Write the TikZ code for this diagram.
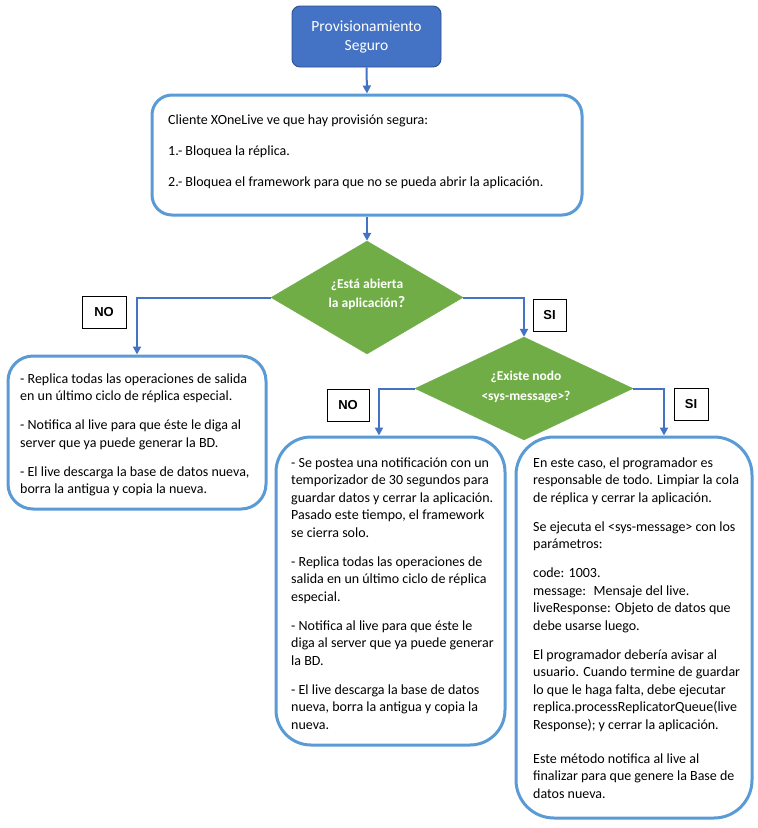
\documentclass[tikz,border=0pt]{standalone}
\usepackage{fontspec}
\setmainfont{Carlito}
\newfontfamily\tagfont{Liberation Sans}
\usetikzlibrary{shapes.geometric,arrows.meta}
\definecolor{provblue}{HTML}{4472C4}
\definecolor{provedge}{HTML}{2F528F}
\definecolor{boxedge}{HTML}{5B9BD5}
\definecolor{decgreen}{HTML}{70AD47}
\begin{document}
\begin{tikzpicture}[x=1pt,y=-1pt,
  txt/.style={font=\fontsize{14}{17.5}\selectfont, align=left, anchor=north west, inner sep=0pt},
  roundbox/.style={draw=boxedge, line width=3pt, fill=white, inner sep=0pt},
  decision/.style={diamond, fill=decgreen, draw=decgreen, inner sep=0pt},
  dectext/.style={text=white, font=\bfseries\fontsize{13.5}{19.5}\selectfont, align=center, inner sep=0pt},
  tag/.style={draw=black, line width=0.8pt, fill=white, font=\tagfont\bfseries\fontsize{13}{16}\selectfont, inner sep=0pt},
  flow/.style={draw=provblue, line width=2pt, -{Triangle[length=8pt,width=8pt]}}
]
\useasboundingbox (0,0) rectangle (758,828);
\fill[white] (0,0) rectangle (758,828);

% boxes
\node[draw=provedge, line width=0.9pt, fill=provblue, rounded corners=8pt, minimum width=149pt, minimum height=61pt, text=white, align=center, font=\fontsize{15.5}{19}\selectfont] (prov) at (366.5,36.5) {Provisionamiento\\Seguro};
\node[roundbox, rounded corners=20pt, minimum width=430pt, minimum height=120pt] (main) at (367,155) {};
\node[decision, minimum width=192pt, minimum height=113pt] (d1) at (367,297.5) {};
\node[roundbox, rounded corners=25pt, minimum width=258pt, minimum height=153pt] (lb) at (137,432.5) {};
\node[decision, minimum width=218pt, minimum height=103pt] (d2) at (524,388.5) {};
\node[roundbox, rounded corners=35pt, minimum width=229pt, minimum height=308pt] (mb) at (390.5,591) {};
\node[roundbox, rounded corners=38pt, minimum width=236pt, minimum height=381pt] (rb) at (634,627.5) {};

% tags
\node[tag, minimum width=44pt, minimum height=32pt] (no1) at (104,312) {NO};
\node[tag, minimum width=33pt, minimum height=32pt] (si1) at (549.5,315) {SI};
\node[tag, minimum width=42pt, minimum height=32pt] (no2) at (348,405) {NO};
\node[tag, minimum width=34pt, minimum height=32pt] (si2) at (691,404) {SI};

% connectors
\draw[flow] (prov.south) -- (main.north);
\draw[flow] (main.south) -- (d1.north);
\draw[flow] (d1.west) -| (lb.north);
\draw[flow] (d1.east) -| (d2.north);
\draw[flow] (d2.west) -| ([xshift=-11.5pt]mb.north);
\draw[flow] (d2.east) -| ([xshift=30pt]rb.north);

% decision texts
\node[dectext] (d1t) at (367,294.5) {¿Está abierta\\la aplicación{\fontsize{16}{19.5}\selectfont ?}};
\node[dectext] (d2t) at (526,387) {¿Existe nodo\\<sys-message>?};

% box texts
\node[txt] (maint) at (168,112) {\rule{0pt}{12pt}Cliente XOneLive ve que hay provisión segura:\\[13.5pt]
1.- Bloquea la réplica.\\[13.5pt]
2.- Bloquea el framework para que no se pueda abrir la aplicación.};

\node[txt] (lbt) at (20,371) {\rule{0pt}{12pt}- Replica todas las operaciones de salida\\
en un último ciclo de réplica especial.\\[11.5pt]
- Notifica al live para que éste le diga al\\
server que ya puede generar la BD.\\[11.5pt]
- El live descarga la base de datos nueva,\\
borra la antigua y copia la nueva.};

\node[txt] (mbt) at (291,455) {\rule{0pt}{12pt}- Se postea una notificación con un\\
temporizador de 30 segundos para\\
guardar datos y cerrar la aplicación.\\
Pasado este tiempo, el framework\\
se cierra solo.\\[11.5pt]
- Replica todas las operaciones de\\
salida en un último ciclo de réplica\\
especial.\\[11.5pt]
- Notifica al live para que éste le\\
diga al server que ya puede generar\\
la BD.\\[11.5pt]
- El live descarga la base de datos\\
nueva, borra la antigua y copia la\\
nueva.};

\node[txt] (rbt) at (533,455) {\rule{0pt}{12pt}En este caso, el programador es\\
responsable de todo. Limpiar la cola\\
de réplica y cerrar la aplicación.\\[11.5pt]
Se ejecuta el <sys-message> con los\\
parámetros:\\[11.5pt]
code: 1003.\\
message:~ Mensaje del live.\\
liveResponse: Objeto de datos que\\
debe usarse luego.\\[11.5pt]
El programador debería avisar al\\
usuario. Cuando termine de guardar\\
lo que le haga falta, debe ejecutar\\
replica.processReplicatorQueue(live\\
Response); y cerrar la aplicación.\\[16.5pt]
Este método notifica al live al\\
finalizar para que genere la Base de\\
datos nueva.};
\end{tikzpicture}
\end{document}
